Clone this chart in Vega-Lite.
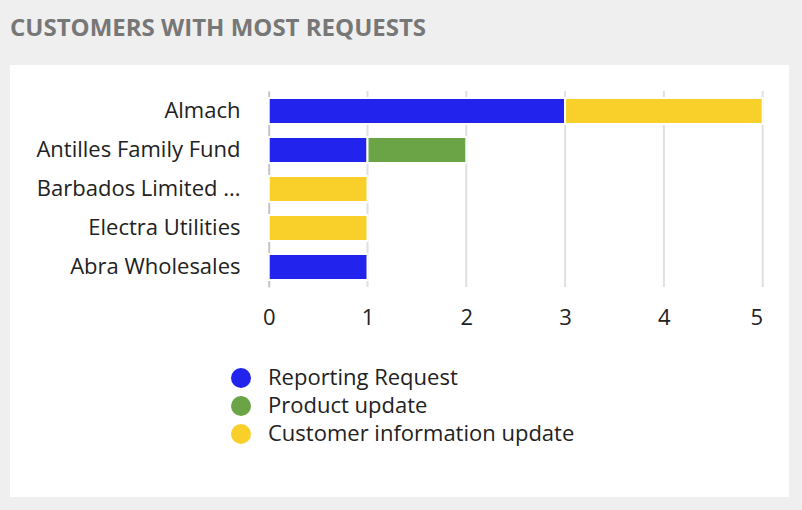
{
  "$schema": "https://vega.github.io/schema/vega-lite/v6.json",
  "width": 779,
  "height": 432,
  "autosize": {"type": "none"},
  "padding": {"left": 10, "top": 65, "right": 13, "bottom": 13},
  "background": "#efefef",
  "config": {"view": {"fill": "white", "stroke": null}, "font": "Open Sans"},
  "title": {
    "text": "CUSTOMERS WITH MOST REQUESTS",
    "anchor": "start",
    "font": "Open Sans",
    "fontSize": 24,
    "fontWeight": "bold",
    "color": "#777777",
    "baseline": "alphabetic",
    "offset": 5
  },
  "layer": [
    {
      "data": {"values": [{"v": 1}, {"v": 2}, {"v": 3}, {"v": 4}, {"v": 5}]},
      "mark": {"type": "rule", "color": "#e0e0e0", "strokeWidth": 2},
      "encoding": {
        "x": {"field": "v", "type": "quantitative", "scale": {"domain": [0, 5], "range": [258.7, 752.7]}},
        "y": {"datum": 0, "type": "quantitative", "scale": {"domain": [0, 1], "range": [26, 222]}, "axis": null},
        "y2": {"datum": 1}
      }
    },
    {
      "data": {
        "values": [
          {"customer": "Almach", "type": "Reporting Request", "count": 3},
          {"customer": "Almach", "type": "Customer information update", "count": 2},
          {"customer": "Antilles Family Fund", "type": "Reporting Request", "count": 1},
          {"customer": "Antilles Family Fund", "type": "Product update", "count": 1},
          {"customer": "Barbados Limited ...", "type": "Customer information update", "count": 1},
          {"customer": "Electra Utilities", "type": "Customer information update", "count": 1},
          {"customer": "Abra Wholesales", "type": "Reporting Request", "count": 1}
        ]
      },
      "mark": {"type": "bar", "stroke": "white", "strokeWidth": 2},
      "encoding": {
        "y": {
          "field": "customer",
          "type": "nominal",
          "sort": ["Almach", "Antilles Family Fund", "Barbados Limited ...", "Electra Utilities", "Abra Wholesales"],
          "scale": {"range": [26, 222], "paddingInner": 0.3333, "paddingOuter": 0.1795},
          "axis": {
            "orient": "left",
            "offset": -258.7,
            "title": null,
            "ticks": false,
            "domainColor": "#c4c4c4",
            "domainWidth": 2,
            "labelFont": "Open Sans",
            "labelFontSize": 22,
            "labelColor": "#222222",
            "labelPadding": 28.7,
            "labelLimit": 400
          }
        },
        "x": {
          "field": "count",
          "type": "quantitative",
          "stack": "zero",
          "axis": {
            "orient": "bottom",
            "offset": -210,
            "title": null,
            "domain": false,
            "ticks": false,
            "grid": false,
            "values": [0, 1, 2, 3, 4, 5],
            "format": "d",
            "labelFlush": false,
            "labelAlign": {"condition": {"test": "datum.value == 5", "value": "right"}, "value": "center"},
            "labelDx": {"condition": {"test": "datum.value == 5", "value": 1}, "value": 1},
            "labelFont": "Open Sans",
            "labelFontSize": 22,
            "labelColor": "#222222",
            "labelPadding": 20
          }
        },
        "color": {
          "field": "type",
          "type": "nominal",
          "scale": {
            "domain": ["Reporting Request", "Product update", "Customer information update"],
            "range": ["#2323ee", "#6ba446", "#f8d029"]
          },
          "legend": {
            "orient": "none",
            "legendX": 220,
            "legendY": 302,
            "title": null,
            "symbolType": "circle",
            "symbolSize": 400,
            "symbolStrokeWidth": 0,
            "labelFont": "Open Sans",
            "labelFontSize": 22,
            "labelColor": "#222222",
            "labelOffset": 16,
            "labelLimit": 500,
            "rowPadding": 6
          }
        },
        "order": {"field": "type", "sort": "descending"}
      }
    }
  ],
  "resolve": {"scale": {"y": "independent"}}
}
